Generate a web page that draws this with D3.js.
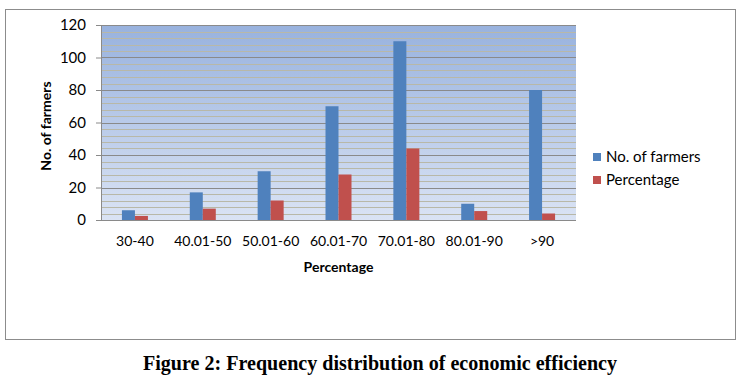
<!DOCTYPE html>
<html><head><meta charset="utf-8">
<script src="https://cdn.jsdelivr.net/npm/d3@7"></script>
<style>body{margin:0;background:#fff;}svg{display:block;}</style>
</head><body>
<script>
const categories = ["30-40","40.01-50","50.01-60","60.01-70","70.01-80","80.01-90",">90"];
const seriesNames = ["No. of farmers","Percentage"];
const farmers = [6,17,30,70,110,10,80];
const percentage = [2.5,7,12,28,44,5.5,4];
const yTicks = [0,20,40,60,80,100,120];
const colors = ["#4f81bd","#c0504d"];

(function(){
const W=743,H=382;
const svg=d3.select("body").append("svg").attr("width",W).attr("height",H);
const font="Lato, 'Open Sans', sans-serif";

// outer frame
svg.append("rect").attr("x",5.5).attr("y",9.5).attr("width",730).attr("height",330)
  .attr("fill","#fff").attr("stroke","#8c8c8c").attr("stroke-width",1);

const pL=101,pR=576,pT=25,pB=220;
const x=d3.scaleBand().domain(categories).range([pL,pR]);
const y=d3.scaleLinear().domain([0,120]).range([pB,pT]);

const defs=svg.append("defs");
const g=defs.append("linearGradient").attr("id","bg").attr("x1",0).attr("y1",0).attr("x2",0).attr("y2",1);
g.append("stop").attr("offset","0%").attr("stop-color","#98b2de");
g.append("stop").attr("offset","100%").attr("stop-color","#dae3f4");
svg.append("rect").attr("x",pL).attr("y",pT).attr("width",pR-pL).attr("height",pB-pT).attr("fill","url(#bg)");

// minor gridlines
const minor=d3.range(0,121,4).filter(v=>v%20!==0);
svg.append("g").selectAll("line").data(minor).join("line")
  .attr("x1",pL).attr("x2",pR).attr("y1",d=>Math.round(y(d))+0.5).attr("y2",d=>Math.round(y(d))+0.5)
  .attr("stroke","#b8b8a8").attr("stroke-width",1);
// major gridlines
svg.append("g").selectAll("line").data(yTicks).join("line")
  .attr("x1",pL).attr("x2",pR).attr("y1",d=>Math.round(y(d))+0.5).attr("y2",d=>Math.round(y(d))+0.5)
  .attr("stroke","#8a8a8a").attr("stroke-width",1);

// y axis
const ya=svg.append("g").attr("transform",`translate(${pL},0)`)
  .call(d3.axisLeft(y).tickValues(yTicks).tickSize(5).tickPadding(10));
ya.select(".domain").attr("stroke","#8a8a8a");
ya.selectAll(".tick line").attr("stroke","#8a8a8a");
ya.selectAll("text").attr("font-family",font).attr("font-size",15).attr("fill","#000");

// x axis
const xa=svg.append("g").attr("transform",`translate(0,${pB})`)
  .call(d3.axisBottom(x).tickSize(0).tickPadding(16));
xa.select(".domain").remove();
xa.selectAll("text").attr("font-family",font).attr("font-size",14).attr("fill","#000");

// bars
const bw=13;
const data=categories.map((c,i)=>({c,vals:[farmers[i],percentage[i]]}));
const grp=svg.append("g").selectAll("g").data(data).join("g");
grp.selectAll("rect").data(d=>d.vals.map((v,j)=>({c:d.c,v,j}))).join("rect")
  .attr("x",d=>x(d.c)+x.bandwidth()/2-bw+d.j*bw)
  .attr("width",bw)
  .attr("y",d=>y(d.v)).attr("height",d=>pB-y(d.v))
  .attr("fill",d=>colors[d.j]);

// axis titles
svg.append("text").attr("x",(pL+pR)/2).attr("y",272).attr("text-anchor","middle")
  .attr("font-family",font).attr("font-weight","bold").attr("font-size",14).text("Percentage");
svg.append("text").attr("transform",`translate(51,126) rotate(-90)`).attr("text-anchor","middle")
  .attr("font-family",font).attr("font-weight","bold").attr("font-size",14).text("No. of farmers");

// legend
const lg=svg.append("g").selectAll("g").data(seriesNames).join("g")
  .attr("transform",(d,i)=>`translate(593,${153+i*23})`);
lg.append("rect").attr("width",8).attr("height",8).attr("fill",(d,i)=>colors[i]);
lg.append("text").attr("x",13).attr("y",9).attr("font-family",font).attr("font-size",15).text(d=>d);

// caption
svg.append("text").attr("x",380).attr("y",370).attr("text-anchor","middle")
  .attr("font-family","'Liberation Serif','Times New Roman',serif").attr("font-weight","bold")
  .attr("font-size",20).attr("textLength",474).attr("lengthAdjust","spacingAndGlyphs")
  .text("Figure 2: Frequency distribution of economic efficiency");
})();
</script>
</body></html>
